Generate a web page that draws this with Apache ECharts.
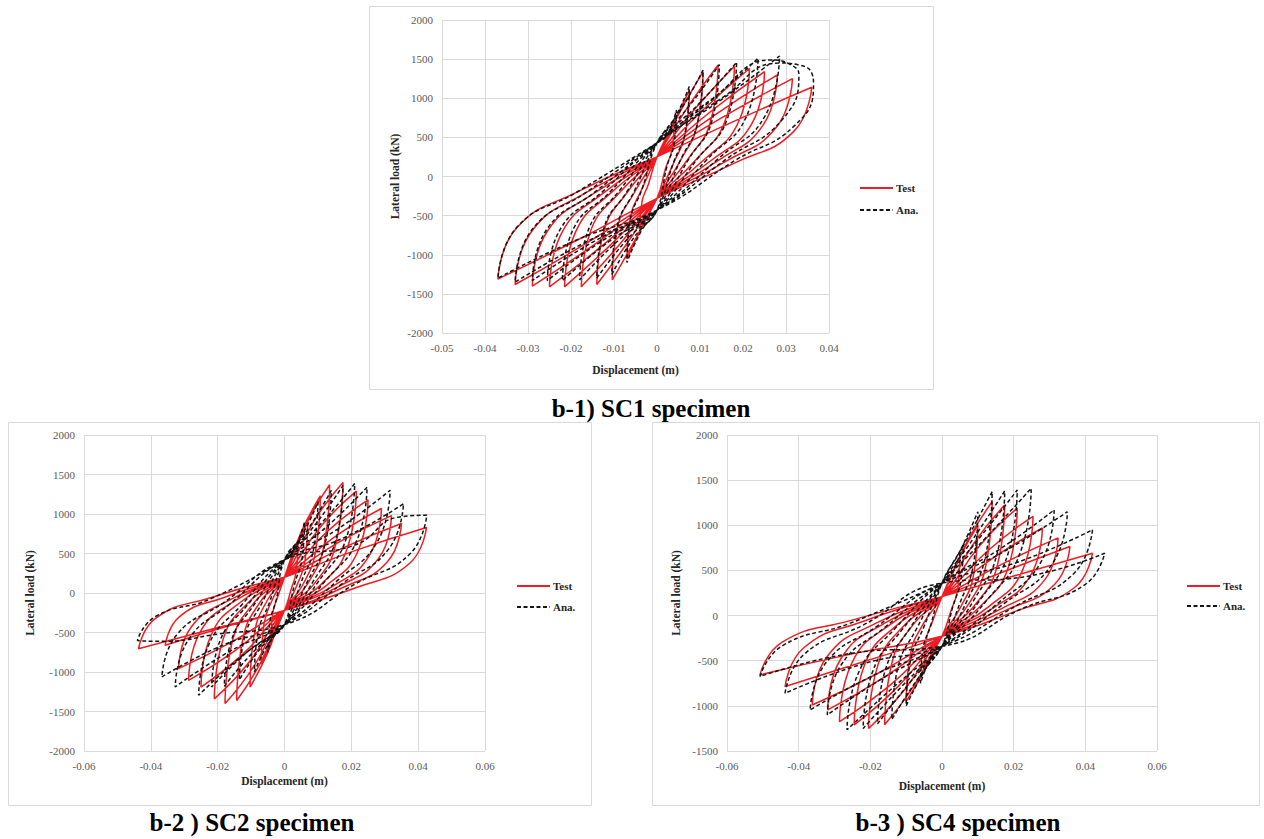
<!DOCTYPE html>
<html>
<head>
<meta charset="utf-8">
<script src="https://cdn.jsdelivr.net/npm/echarts@6/dist/echarts.min.js"></script>
<style>html,body{margin:0;padding:0;background:#fff;}#c{width:1264px;height:839px;}</style>
</head>
<body>
<div id="c"></div>
<script>
// ---- axis settings (min, max, interval) ----
const sc1X = [-0.05, 0.04, 0.01];
const sc1Y = [-2000, 2000, 500];
const sc2X = [-0.06, 0.06, 0.02];
const sc2Y = [-2000, 2000, 500];
const sc4X = [-0.06, 0.06, 0.02];
const sc4Y = [-1500, 2000, 500];
const panelTitles = ['b-1) SC1 specimen', 'b-2 ) SC2 specimen', 'b-3 ) SC4 specimen'];
const legendNames = ['Test', 'Ana.'];

// ---- hysteresis data [displacement (m), lateral load (kN)] ----
const sc1Test = [
 [0,250],[0.002,434],[0.004,700],[0.0035,350],[0.002,105],[0,-280],[-0.002,-403],[-0.004,-650],[-0.0035,-325],[-0.002,-98],
 [0,250],[0.0038,682],[0.0075,1100],[0.0066,550],[0.0038,165],[0,-280],[-0.0035,-651],[-0.007,-1050],[-0.0062,-525],[-0.0035,-158],
 [0,250],[0.0054,831],[0.0107,1340],[0.0094,670],[0.0054,201],[0,-280],[-0.0052,-818],[-0.0104,-1320],[-0.0092,-660],[-0.0052,-198],
 [0,250],[0.0071,884],[0.0142,1425],[0.0125,713],[0.0071,214],[0,-280],[-0.007,-856],[-0.014,-1380],[-0.0123,-690],[-0.007,-207],
 [0,250],[0.009,874],[0.018,1410],[0.0158,705],[0.009,212],[0,-280],[-0.0088,-874],[-0.0176,-1410],[-0.0155,-705],[-0.0088,-212],
 [0,250],[0.0108,856],[0.0215,1380],[0.0189,690],[0.0108,207],[0,-280],[-0.0108,-874],[-0.0215,-1410],[-0.0189,-705],[-0.0108,-212],
 [0,250],[0.0125,831],[0.025,1340],[0.022,670],[0.0125,201],[0,-280],[-0.0125,-874],[-0.025,-1410],[-0.022,-705],[-0.0125,-212],
 [0,250],[0.014,806],[0.028,1300],[0.0246,650],[0.014,195],[0,-280],[-0.0145,-868],[-0.029,-1400],[-0.0255,-700],[-0.0145,-210],
 [0,250],[0.0158,775],[0.0315,1250],[0.0277,625],[0.0158,188],[0,-280],[-0.0165,-856],[-0.033,-1380],[-0.029,-690],[-0.0165,-207],
 [0,250],[0.018,707],[0.036,1140],[0.0317,570],[0.018,171],[0,-280],[-0.0185,-812],[-0.037,-1310],[-0.0326,-655],[-0.0185,-197],
 [0,250]
];
const sc1Ana = [
 [0,430],[0.0023,527],[0.0045,850],[0.004,425],[0.0023,128],[0,-430],[-0.0035,-682],[-0.007,-1100],[-0.0062,-550],[-0.0035,-165],
 [0,430],[0.0038,713],[0.0075,1150],[0.0066,575],[0.0038,173],[0,-430],[-0.0053,-775],[-0.0105,-1250],[-0.0092,-625],[-0.0053,-188],
 [0,430],[0.0054,843],[0.0107,1360],[0.0094,680],[0.0054,204],[0,-430],[-0.007,-806],[-0.014,-1300],[-0.0123,-650],[-0.007,-195],
 [0,430],[0.0073,887],[0.0145,1430],[0.0128,715],[0.0073,215],[0,-430],[-0.009,-818],[-0.018,-1320],[-0.0158,-660],[-0.009,-198],
 [0,430],[0.0093,905],[0.0185,1460],[0.0163,730],[0.0093,219],[0,-430],[-0.011,-825],[-0.022,-1330],[-0.0194,-665],[-0.011,-200],
 [0,430],[0.0118,936],[0.0235,1510],[0.0207,755],[0.0118,227],[0,-430],[-0.0128,-825],[-0.0255,-1330],[-0.0224,-665],[-0.0128,-200],
 [0,430],[0.0143,955],[0.0285,1540],[0.0251,770],[0.0143,231],[0,-430],[-0.0145,-825],[-0.029,-1330],[-0.0255,-665],[-0.0145,-200],
 [0,430],[0.013,1000],[0.0266,1490],[0.031,1430],[0.033,1300],[0.029,720],[0.016,218],[0,-430],[-0.0165,-837],[-0.033,-1350],[-0.029,-675],[-0.0165,-203],
 [0,430],[0.015,1000],[0.0285,1450],[0.033,1425],[0.036,1320],[0.0364,1170],[0.032,650],[0.018,200],[0,-430],[-0.0185,-806],[-0.037,-1300],[-0.0326,-650],[-0.0185,-195],
 [0,430]
];
const sc2Test = [
 [0,200],[0.002,390],[0.004,600],[0.0035,270],[0.002,48],[0,-220],[-0.002,-358],[-0.004,-550],[-0.0035,-248],[-0.002,-44],
 [0,200],[0.0035,618],[0.007,950],[0.0062,428],[0.0035,76],[0,-220],[-0.0035,-585],[-0.007,-900],[-0.0062,-405],[-0.0035,-72],
 [0,200],[0.0054,800],[0.0107,1230],[0.0094,554],[0.0054,98],[0,-220],[-0.0052,-774],[-0.0103,-1190],[-0.0091,-536],[-0.0052,-95],
 [0,200],[0.0068,891],[0.0135,1370],[0.0119,617],[0.0068,110],[0,-220],[-0.0072,-884],[-0.0143,-1360],[-0.0126,-612],[-0.0072,-109],
 [0,200],[0.0088,910],[0.0175,1400],[0.0154,630],[0.0088,112],[0,-220],[-0.0089,-910],[-0.0178,-1400],[-0.0157,-630],[-0.0089,-112],
 [0,200],[0.0108,839],[0.0215,1290],[0.0189,581],[0.0108,103],[0,-220],[-0.0105,-871],[-0.021,-1340],[-0.0185,-603],[-0.0105,-107],
 [0,200],[0.0125,767],[0.025,1180],[0.022,531],[0.0125,94],[0,-220],[-0.0125,-774],[-0.025,-1190],[-0.022,-536],[-0.0125,-95],
 [0,200],[0.0145,696],[0.029,1070],[0.0255,482],[0.0145,86],[0,-220],[-0.0144,-718],[-0.0287,-1105],[-0.0253,-497],[-0.0144,-88],
 [0,200],[0.016,637],[0.032,980],[0.0282,441],[0.016,78],[0,-220],[-0.0159,-623],[-0.0317,-958],[-0.0279,-431],[-0.0159,-77],
 [0,200],[0.0175,572],[0.035,880],[0.0308,396],[0.0175,70],[0,-220],[-0.0179,-430],[-0.0357,-662],[-0.0314,-298],[-0.0179,-53],
 [0,200],[0.0213,540],[0.0425,830],[0.0374,374],[0.0213,66],[0,-220],[-0.0219,-458],[-0.0437,-705],[-0.0385,-317],[-0.0219,-56],
 [0,200]
];
const sc2Ana = [
 [0,420],[0.003,558],[0.006,900],[0.0053,450],[0.003,108],[0,-400],[-0.0025,-465],[-0.005,-750],[-0.0044,-375],[-0.0025,-90],
 [0,420],[0.005,713],[0.01,1150],[0.0088,575],[0.005,138],[0,-400],[-0.0045,-620],[-0.009,-1000],[-0.0079,-500],[-0.0045,-120],
 [0,420],[0.007,806],[0.014,1300],[0.0123,650],[0.007,156],[0,-400],[-0.0068,-682],[-0.0135,-1100],[-0.0119,-550],[-0.0068,-132],
 [0,420],[0.0088,843],[0.0175,1360],[0.0154,680],[0.0088,163],[0,-400],[-0.009,-732],[-0.018,-1180],[-0.0158,-590],[-0.009,-142],
 [0,420],[0.0105,859],[0.021,1385],[0.0185,693],[0.0105,166],[0,-400],[-0.0109,-738],[-0.0218,-1190],[-0.0192,-595],[-0.0109,-143],
 [0,420],[0.0124,831],[0.0247,1340],[0.0217,670],[0.0124,161],[0,-400],[-0.0129,-803],[-0.0257,-1295],[-0.0226,-648],[-0.0129,-155],
 [0,420],[0.0158,806],[0.0316,1300],[0.0278,650],[0.0158,156],[0,-400],[-0.0164,-738],[-0.0327,-1190],[-0.0288,-595],[-0.0164,-143],
 [0,420],[0.0178,700],[0.0356,1130],[0.0313,565],[0.0178,136],[0,-400],[-0.0184,-659],[-0.0367,-1063],[-0.0323,-532],[-0.0184,-128],
 [0,420],[0.0213,611],[0.034,960],[0.0426,985],[0.0375,493],[0.0213,118],[0,-400],[-0.02,-520],[-0.036,-610],[-0.044,-600],[-0.0387,-300],[-0.022,-72],
 [0,420]
];
const sc4Test = [
 [0,210],[0.0025,423],[0.005,650],[0.0044,293],[0.0025,52],[0,-230],[-0.0025,-390],[-0.005,-600],[-0.0044,-270],[-0.0025,-48],
 [0,210],[0.005,650],[0.01,1000],[0.0088,450],[0.005,80],[0,-230],[-0.005,-618],[-0.01,-950],[-0.0088,-428],[-0.005,-76],
 [0,210],[0.007,819],[0.014,1260],[0.0123,567],[0.007,101],[0,-230],[-0.008,-787],[-0.016,-1210],[-0.0141,-545],[-0.008,-97],
 [0,210],[0.0088,796],[0.0175,1225],[0.0154,551],[0.0088,98],[0,-230],[-0.0103,-813],[-0.0205,-1250],[-0.018,-563],[-0.0103,-100],
 [0,210],[0.0105,774],[0.021,1190],[0.0185,536],[0.0105,95],[0,-230],[-0.0123,-787],[-0.0245,-1210],[-0.0216,-545],[-0.0123,-97],
 [0,210],[0.0127,715],[0.0254,1100],[0.0224,495],[0.0127,88],[0,-230],[-0.0143,-764],[-0.0286,-1175],[-0.0252,-529],[-0.0143,-94],
 [0,210],[0.014,631],[0.028,970],[0.0246,437],[0.014,78],[0,-230],[-0.016,-679],[-0.0319,-1045],[-0.0281,-470],[-0.016,-84],
 [0,210],[0.0162,559],[0.0324,860],[0.0285,387],[0.0162,69],[0,-230],[-0.0181,-644],[-0.0362,-990],[-0.0319,-446],[-0.0181,-79],
 [0,210],[0.0179,497],[0.0357,765],[0.0314,344],[0.0179,61],[0,-230],[-0.0219,-511],[-0.0438,-786],[-0.0385,-354],[-0.0219,-63],
 [0,210],[0.021,449],[0.042,690],[0.037,311],[0.021,55],[0,-230],[-0.0254,-427],[-0.0508,-657],[-0.0447,-296],[-0.0254,-53],
 [0,210]
];
const sc4Ana = [
 [0,360],[0.003,496],[0.006,800],[0.0053,400],[0.003,96],[0,-340],[-0.003,-465],[-0.006,-750],[-0.0053,-375],[-0.003,-90],
 [0,360],[0.005,713],[0.01,1150],[0.0088,575],[0.005,138],[0,-340],[-0.005,-620],[-0.01,-1000],[-0.0088,-500],[-0.005,-120],
 [0,360],[0.007,851],[0.014,1373],[0.0123,687],[0.007,165],[0,-340],[-0.007,-713],[-0.014,-1150],[-0.0123,-575],[-0.007,-138],
 [0,360],[0.0088,856],[0.0175,1380],[0.0154,690],[0.0088,166],[0,-340],[-0.009,-744],[-0.018,-1200],[-0.0158,-600],[-0.009,-144],
 [0,360],[0.0105,862],[0.021,1390],[0.0185,695],[0.0105,167],[0,-340],[-0.011,-775],[-0.022,-1250],[-0.0194,-625],[-0.011,-150],
 [0,360],[0.0125,874],[0.0249,1410],[0.0219,705],[0.0125,169],[0,-340],[-0.0133,-784],[-0.0265,-1265],[-0.0233,-633],[-0.0133,-152],
 [0,360],[0.0157,725],[0.0313,1170],[0.0275,585],[0.0157,140],[0,-340],[-0.016,-682],[-0.032,-1100],[-0.0282,-550],[-0.016,-132],
 [0,360],[0.0175,713],[0.035,1150],[0.0308,575],[0.0175,138],[0,-340],[-0.0184,-648],[-0.0368,-1045],[-0.0324,-523],[-0.0184,-125],
 [0,360],[0.021,589],[0.042,950],[0.037,475],[0.021,114],[0,-340],[-0.0219,-533],[-0.0438,-860],[-0.0385,-430],[-0.0219,-103],
 [0,360],[0.0227,428],[0.0454,690],[0.04,345],[0.0227,83],[0,-340],[-0.0254,-419],[-0.0508,-675],[-0.0447,-338],[-0.0254,-81],
 [0,360]
];

// ---- rendering ----
const FONT = "'Liberation Serif','Times New Roman',serif";
const RED = '#ee1d23';
const BLACK = '#141414';
const DASH = [4, 2.5];

const grids = [
  {left: 442, top: 20, width: 387, height: 313},
  {left: 84, top: 435, width: 401, height: 316},
  {left: 727, top: 435, width: 430, height: 316}
];
const xr = [sc1X, sc2X, sc4X];
const yr = [sc1Y, sc2Y, sc4Y];
const xNameGap = [31, 24, 29];
const yNameGap = [41, 48, 45];

function xAxisOf(i) {
  return {
    type: 'value', gridIndex: i, min: xr[i][0], max: xr[i][1], interval: xr[i][2],
    axisLine: {show: false}, axisTick: {show: false},
    splitLine: {show: true, lineStyle: {color: '#d9d9d9', width: 1}},
    axisLabel: {fontFamily: FONT, fontSize: 11, color: '#595959', margin: 9,
      formatter: v => String(Number(v.toFixed(2)))},
    name: 'Displacement (m)', nameLocation: 'middle', nameGap: xNameGap[i],
    nameTextStyle: {fontFamily: FONT, fontWeight: 'bold', fontSize: 11.5, color: '#262626'}
  };
}
function yAxisOf(i) {
  return {
    type: 'value', gridIndex: i, min: yr[i][0], max: yr[i][1], interval: yr[i][2],
    axisLine: {show: false}, axisTick: {show: false},
    splitLine: {show: true, lineStyle: {color: '#d9d9d9', width: 1}},
    axisLabel: {fontFamily: FONT, fontSize: 11, color: '#595959', margin: 9,
      formatter: v => String(Math.round(v))},
    name: 'Lateral load (kN)', nameLocation: 'middle', nameGap: yNameGap[i], nameRotate: 90,
    nameTextStyle: {fontFamily: FONT, fontWeight: 'bold', fontSize: 11.5, color: '#262626'}
  };
}
function legendGraphics(x, y1, y2) {
  return [
    {type: 'line', shape: {x1: x, y1: y1, x2: x + 33, y2: y1}, style: {stroke: RED, lineWidth: 1.8}},
    {type: 'text', x: x + 36, y: y1, style: {text: legendNames[0], font: "bold 11px " + FONT, fill: '#262626', textVerticalAlign: 'middle'}},
    {type: 'line', shape: {x1: x, y1: y2, x2: x + 33, y2: y2}, style: {stroke: BLACK, lineWidth: 1.8, lineDash: [4, 2.5]}},
    {type: 'text', x: x + 36, y: y2, style: {text: legendNames[1], font: "bold 11px " + FONT, fill: '#262626', textVerticalAlign: 'middle'}}
  ];
}
function testSeries(i, data) {
  return {type: 'line', name: 'Test', xAxisIndex: i, yAxisIndex: i, data: data,
    symbol: 'none', showSymbol: false, smooth: 0.5, z: 2,
    lineStyle: {color: RED, width: 1.5}, itemStyle: {color: RED}};
}
function anaSeries(i, data) {
  return {type: 'line', name: 'Ana.', xAxisIndex: i, yAxisIndex: i, data: data,
    symbol: 'none', showSymbol: false, smooth: 0.5, z: 3,
    lineStyle: {color: BLACK, width: 1.5, type: DASH}, itemStyle: {color: BLACK}};
}

const chart = echarts.init(document.getElementById('c'), null, {renderer: 'svg', width: 1264, height: 839});
chart.setOption({
  animation: false,
  backgroundColor: '#ffffff',
  grid: grids,
  xAxis: [xAxisOf(0), xAxisOf(1), xAxisOf(2)],
  yAxis: [yAxisOf(0), yAxisOf(1), yAxisOf(2)],
  graphic: [
    {type: 'rect', z: -1, shape: {x: 369.5, y: 6.5, width: 564, height: 383}, style: {fill: 'none', stroke: '#d9d9d9', lineWidth: 1}},
    {type: 'rect', z: -1, shape: {x: 8.5, y: 422.5, width: 583, height: 383}, style: {fill: 'none', stroke: '#d9d9d9', lineWidth: 1}},
    {type: 'rect', z: -1, shape: {x: 652.5, y: 422.5, width: 607, height: 383}, style: {fill: 'none', stroke: '#d9d9d9', lineWidth: 1}},
    {type: 'text', x: 651, y: 408, style: {text: panelTitles[0], font: "bold 25px " + FONT, fill: '#000', textAlign: 'center', textVerticalAlign: 'middle'}},
    {type: 'text', x: 252, y: 822, style: {text: panelTitles[1], font: "bold 25px " + FONT, fill: '#000', textAlign: 'center', textVerticalAlign: 'middle'}},
    {type: 'text', x: 958, y: 822, style: {text: panelTitles[2], font: "bold 25px " + FONT, fill: '#000', textAlign: 'center', textVerticalAlign: 'middle'}}
  ].concat(legendGraphics(860, 188, 210), legendGraphics(517, 586, 607), legendGraphics(1187, 586, 606)),
  series: [
    testSeries(0, sc1Test), anaSeries(0, sc1Ana),
    testSeries(1, sc2Test), anaSeries(1, sc2Ana),
    testSeries(2, sc4Test), anaSeries(2, sc4Ana)
  ]
});
</script>
</body>
</html>
